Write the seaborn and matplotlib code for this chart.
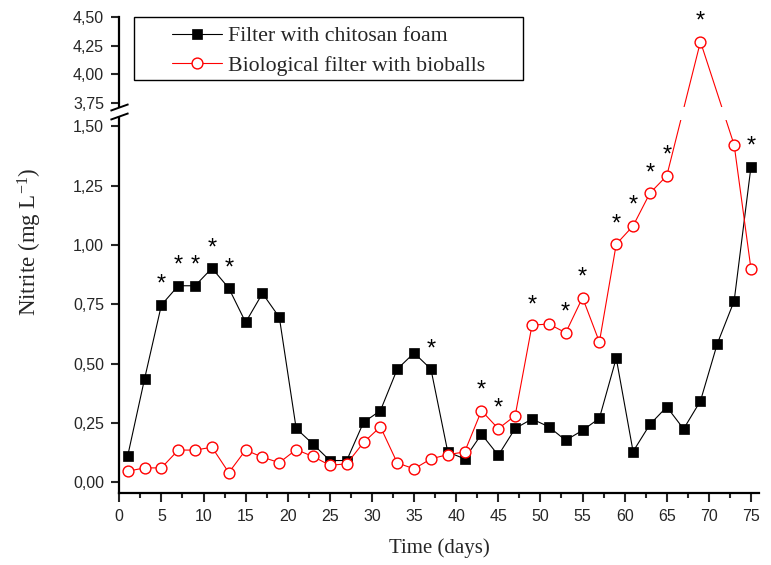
import numpy as np
import pandas as pd
import matplotlib
matplotlib.use("Agg")
import matplotlib.pyplot as plt
import matplotlib.transforms as mtransforms
from matplotlib.path import Path
from matplotlib.patches import Rectangle
from matplotlib.ticker import MultipleLocator, FixedLocator, FixedFormatter
import seaborn as sns

# ---------------- data ----------------
chitosan_days = [1, 3, 5, 7, 9, 11, 13, 15, 17, 19, 21, 23, 25, 27, 29, 31, 33, 35, 37, 39,
                 41, 43, 45, 47, 49, 51, 53, 55, 57, 59, 61, 63, 65, 67, 69, 71, 73, 75]
chitosan_nitrite = [0.112, 0.436, 0.747, 0.828, 0.828, 0.902, 0.818, 0.674, 0.796, 0.695,
                    0.227, 0.161, 0.092, 0.092, 0.253, 0.302, 0.477, 0.545, 0.477, 0.128,
                    0.099, 0.203, 0.114, 0.227, 0.267, 0.234, 0.177, 0.219, 0.270, 0.523,
                    0.130, 0.244, 0.318, 0.225, 0.343, 0.584, 0.764, 1.330]

bioballs_days = [1, 3, 5, 7, 9, 11, 13, 15, 17, 19, 21, 23, 25, 27, 29, 31, 33, 35, 37, 39,
                 41, 43, 45, 47, 49, 51, 53, 55, 57, 59, 61, 63, 65, 69, 73, 75]
bioballs_nitrite = [0.047, 0.061, 0.061, 0.136, 0.136, 0.148, 0.041, 0.136, 0.106, 0.083,
                    0.138, 0.109, 0.072, 0.078, 0.168, 0.234, 0.082, 0.057, 0.099, 0.117,
                    0.128, 0.302, 0.226, 0.281, 0.662, 0.667, 0.630, 0.778, 0.591, 1.003,
                    1.080, 1.218, 1.291, 4.286, 1.421, 0.898]

chitosan_star_days = [5, 7, 9, 11, 13, 37, 75]
bioballs_star_days = [43, 45, 49, 53, 55, 59, 61, 63, 65, 69]

series_labels = ["Filter with chitosan foam", "Biological filter with bioballs"]
x_ticks = list(range(0, 80, 5))
y_ticks = [0.0, 0.25, 0.5, 0.75, 1.0, 1.25, 1.5, 3.75, 4.0, 4.25, 4.5]
y_ticklabels = ["0,00", "0,25", "0,50", "0,75", "1,00", "1,25", "1,50",
                "3,75", "4,00", "4,25", "4,50"]

# ---------------- broken-axis scale ----------------
B_LO, B_HI = 1.5, 3.75       # hidden interval
K_GAP = 0.04364              # compression of hidden interval
R_TOP = 0.4804               # compression of the upper part
F2 = B_LO + (B_HI - B_LO) * K_GAP


def fwd(y):
    y = np.asarray(y, dtype=float)
    return np.where(y <= B_LO, y,
                    np.where(y <= B_HI, B_LO + (y - B_LO) * K_GAP,
                             F2 + (y - B_HI) * R_TOP))


def inv(f):
    f = np.asarray(f, dtype=float)
    return np.where(f <= B_LO, f,
                    np.where(f <= F2, B_LO + (f - B_LO) / K_GAP,
                             B_HI + (f - F2) / R_TOP))


# ---------------- style ----------------
sns.set_style("ticks")
plt.rcParams["font.family"] = ["Liberation Sans", "DejaVu Sans"]
plt.rcParams["mathtext.fontset"] = "custom"
plt.rcParams["mathtext.rm"] = "Liberation Serif"
plt.rcParams["mathtext.it"] = "Liberation Serif:italic"

W, H = 771, 565
fig = plt.figure(figsize=(W / 100, H / 100), dpi=100)
ax = fig.add_axes([119.3 / W, 1 - 493.3 / H, (759 - 119.3) / W, (493.3 - 17.3) / H])

df_c = pd.DataFrame({"day": chitosan_days, "nitrite": chitosan_nitrite})
df_b = pd.DataFrame({"day": bioballs_days, "nitrite": bioballs_nitrite})

sns.lineplot(data=df_c, x="day", y="nitrite", ax=ax, color="black", linewidth=0.8,
             marker="s", markersize=7.4, markerfacecolor="black", markeredgecolor="black",
             markeredgewidth=0.5, label=series_labels[0], zorder=3)
sns.lineplot(data=df_b, x="day", y="nitrite", ax=ax, color="red", linewidth=0.8,
             marker="o", markersize=7.8, markerfacecolor="white", markeredgecolor="red",
             markeredgewidth=1.0, label=series_labels[1], zorder=3)

ax.set_yscale("function", functions=(fwd, inv))
ax.set_xlim(0, 75.95)
ax.set_ylim(-0.046, 4.5)

# asterisks
for days_list, d_list, v_list in [(chitosan_star_days, chitosan_days, chitosan_nitrite),
                                  (bioballs_star_days, bioballs_days, bioballs_nitrite)]:
    for d in days_list:
        v = v_list[d_list.index(d)]
        ax.annotate("*", xy=(d, v), xytext=(0, 6.5), textcoords="offset points",
                    ha="center", va="bottom", fontsize=17, color="black",
                    annotation_clip=False, zorder=6)

# ticks
ax.xaxis.set_major_locator(FixedLocator(x_ticks))
ax.xaxis.set_minor_locator(MultipleLocator(2.5))
ax.yaxis.set_major_locator(FixedLocator(y_ticks))
ax.yaxis.set_major_formatter(FixedFormatter(y_ticklabels))
ax.yaxis.set_minor_locator(FixedLocator([]))
ax.tick_params(axis="x", which="major", direction="out", length=6.5, width=1.5,
               labelsize=11.5, pad=5)
ax.tick_params(axis="x", which="minor", direction="out", length=3.5, width=1.5)
ax.tick_params(axis="y", which="major", direction="out", length=6, width=1.5,
               labelsize=11.5, pad=5)

for s in ["top", "right"]:
    ax.spines[s].set_visible(False)
for s in ["left", "bottom"]:
    ax.spines[s].set_linewidth(1.6)
    ax.spines[s].set_color("black")

# break: gap in the data lines and in the spine
blend = mtransforms.blended_transform_factory(ax.transAxes, ax.transData)
ax.add_patch(Rectangle((0.004, 2.08), 1.0, 3.36 - 2.08, transform=blend,
                       facecolor="white", edgecolor="none", zorder=4, clip_on=False))
ax.add_patch(Rectangle((-0.01, 2.45), 0.02, 3.33 - 2.45, transform=blend,
                       facecolor="white", edgecolor="none", zorder=4, clip_on=False))
slash = Path([(-1.0, -0.36), (1.0, 0.36)], [Path.MOVETO, Path.LINETO])
ax.plot([0, 0], [2.45, 3.33], transform=blend, linestyle="none", marker=slash,
        markersize=13, markeredgewidth=1.4, color="black", clip_on=False, zorder=5)

# labels
ax.set_xlabel("Time (days)", family="Liberation Serif", fontsize=15)
ax.set_ylabel(r"Nitrite (mg L$^{\mathregular{-1}}$)", family="Liberation Serif", fontsize=16.5)
ax.xaxis.set_label_coords(0.5, -0.095)
ax.yaxis.set_label_coords(-0.118, 0.528)

# legend
leg = ax.legend(loc="upper left", bbox_to_anchor=(171.7 / W, 1 - 26 / H),
                bbox_transform=fig.transFigure, frameon=False, borderpad=0,
                borderaxespad=0, handlelength=2.3, handletextpad=0.28, labelspacing=0.42,
                prop={"family": "Liberation Serif", "size": 15.7})
fig.patches.append(Rectangle((134.3 / W, 1 - 80 / H), (522.7 - 134.3) / W, (80 - 17.3) / H,
                             transform=fig.transFigure, facecolor="none",
                             edgecolor="black", linewidth=1.0, zorder=10))

fig.savefig("out.png", dpi=100)
